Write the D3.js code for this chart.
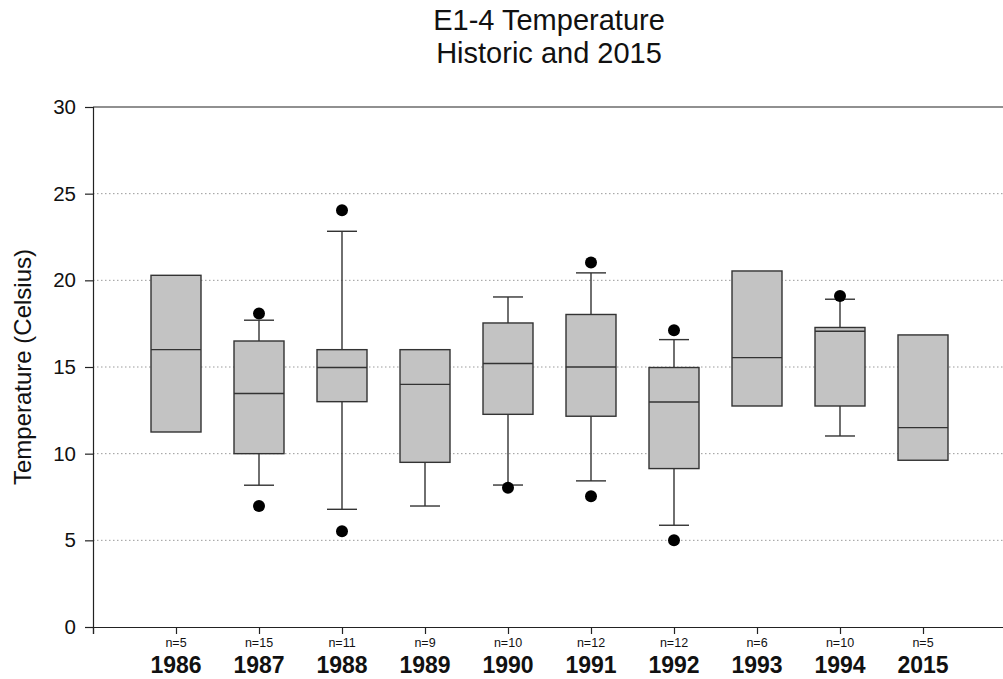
<!DOCTYPE html>
<html>
<head>
<meta charset="utf-8">
<script src="https://cdn.jsdelivr.net/npm/d3@7"></script>
<style>
  html, body { margin: 0; padding: 0; background: #ffffff; }
  svg { display: block; }
  text { font-family: "Liberation Sans", Arial, sans-serif; fill: #111; }
</style>
</head>
<body>
<svg id="chart" width="1003" height="679"></svg>
<script>
// Station E1-4 water temperature, yearly box plots
const years      = ["1986", "1987", "1988", "1989", "1990", "1991", "1992", "1993", "1994", "2015"];
const nCounts    = [5, 15, 11, 9, 10, 12, 12, 6, 10, 5];
const q1         = [11.25, 10.0, 13.0, 9.5, 12.27, 12.16, 9.14, 12.75, 12.75, 9.62];
const medians    = [16.0, 13.47, 14.97, 14.0, 15.2, 15.0, 12.98, 15.54, 17.06, 11.5];
const q3         = [20.29, 16.5, 16.0, 16.0, 17.54, 18.03, 14.97, 20.54, 17.28, 16.85];
const whiskerLow = [null, 8.18, 6.79, 6.98, 8.19, 8.43, 5.87, null, 11.02, null];
const whiskerHigh= [null, 17.7, 22.83, null, 19.04, 20.43, 16.58, null, 18.91, null];
const outliers   = [[], [18.08, 6.98], [24.05, 5.52], [], [8.04], [21.03, 7.54], [17.12, 5.0], [], [19.1], []];
const yTicks     = [0, 5, 10, 15, 20, 25, 30];
const gridValues = [5, 10, 15, 20, 25];

const svg = d3.select("#chart");
const plotLeft = 93, plotRight = 1006, plotTop = 107, plotBottom = 627;

const x = d3.scaleLinear().domain([-1, years.length]).range([plotLeft, plotRight]);
const y = d3.scaleLinear().domain([0, 30]).range([plotBottom, plotTop]);

const boxW = 50, capW = 30;

// Title
svg.append("text").attr("x", 549).attr("y", 30).attr("text-anchor", "middle")
  .style("font-size", "29px").text("E1-4 Temperature");
svg.append("text").attr("x", 549).attr("y", 63).attr("text-anchor", "middle")
  .style("font-size", "29px").text("Historic and 2015");

// Dotted grid lines
svg.append("g").selectAll("line").data(gridValues).join("line")
  .attr("x1", plotLeft).attr("x2", plotRight)
  .attr("y1", d => y(d)).attr("y2", d => y(d))
  .attr("stroke", "#9a9a9a").attr("stroke-width", 1)
  .attr("stroke-dasharray", "1.5,2.5");

// Top frame line
svg.append("line").attr("x1", plotLeft).attr("x2", plotRight).attr("y1", plotTop).attr("y2", plotTop)
  .attr("stroke", "#222").attr("stroke-width", 1.2);

// Y axis
const yAxis = svg.append("g").attr("transform", `translate(${plotLeft},0)`)
  .call(d3.axisLeft(y).tickValues(yTicks).tickSize(8).tickPadding(9).tickFormat(d3.format("d")));
yAxis.select(".domain").attr("stroke", "#222").attr("stroke-width", 1.2);
yAxis.selectAll(".tick line").attr("stroke", "#222").attr("stroke-width", 1.2);
yAxis.selectAll("text").style("font-size", "20.5px").style("font-family", "'Liberation Sans', Arial, sans-serif").attr("fill", "#111");

// X axis with ticks at each year
const xAxis = svg.append("g").attr("transform", `translate(0,${plotBottom})`)
  .call(d3.axisBottom(x).tickValues(d3.range(-1, years.length)).tickSize(7).tickFormat(""));
xAxis.select(".domain").attr("stroke", "#222").attr("stroke-width", 1.2);
xAxis.selectAll(".tick line").attr("stroke", "#222").attr("stroke-width", 1.2);

// Sample counts and year labels
svg.append("g").selectAll("text").data(nCounts).join("text")
  .attr("x", (d, i) => x(i)).attr("y", 647).attr("text-anchor", "middle")
  .style("font-size", "12.5px").text(d => "n=" + d);
svg.append("g").selectAll("text").data(years).join("text")
  .attr("x", (d, i) => x(i)).attr("y", 673).attr("text-anchor", "middle")
  .style("font-size", "23px").style("font-weight", "bold").text(d => d);

// Y axis title
svg.append("text")
  .attr("transform", `translate(31,${(plotTop + plotBottom) / 2}) rotate(-90)`)
  .attr("text-anchor", "middle").style("font-size", "24px")
  .text("Temperature (Celsius)");

// Box plots
const stroke = "#333", sw = 1.4;
const g = svg.append("g");
years.forEach((yr, i) => {
  const cx = x(i);
  // whiskers
  if (whiskerHigh[i] !== null) {
    g.append("line").attr("x1", cx).attr("x2", cx).attr("y1", y(q3[i])).attr("y2", y(whiskerHigh[i]))
      .attr("stroke", stroke).attr("stroke-width", sw);
    g.append("line").attr("x1", cx - capW / 2).attr("x2", cx + capW / 2)
      .attr("y1", y(whiskerHigh[i])).attr("y2", y(whiskerHigh[i]))
      .attr("stroke", stroke).attr("stroke-width", sw);
  }
  if (whiskerLow[i] !== null) {
    g.append("line").attr("x1", cx).attr("x2", cx).attr("y1", y(q1[i])).attr("y2", y(whiskerLow[i]))
      .attr("stroke", stroke).attr("stroke-width", sw);
    g.append("line").attr("x1", cx - capW / 2).attr("x2", cx + capW / 2)
      .attr("y1", y(whiskerLow[i])).attr("y2", y(whiskerLow[i]))
      .attr("stroke", stroke).attr("stroke-width", sw);
  }
  // box
  g.append("rect").attr("x", cx - boxW / 2).attr("width", boxW)
    .attr("y", y(q3[i])).attr("height", y(q1[i]) - y(q3[i]))
    .attr("fill", "#c3c3c3").attr("stroke", stroke).attr("stroke-width", sw);
  // median
  g.append("line").attr("x1", cx - boxW / 2).attr("x2", cx + boxW / 2)
    .attr("y1", y(medians[i])).attr("y2", y(medians[i]))
    .attr("stroke", stroke).attr("stroke-width", sw);
  // outliers
  outliers[i].forEach(v => {
    g.append("circle").attr("cx", cx).attr("cy", y(v)).attr("r", 6).attr("fill", "#000");
  });
});
</script>
</body>
</html>
